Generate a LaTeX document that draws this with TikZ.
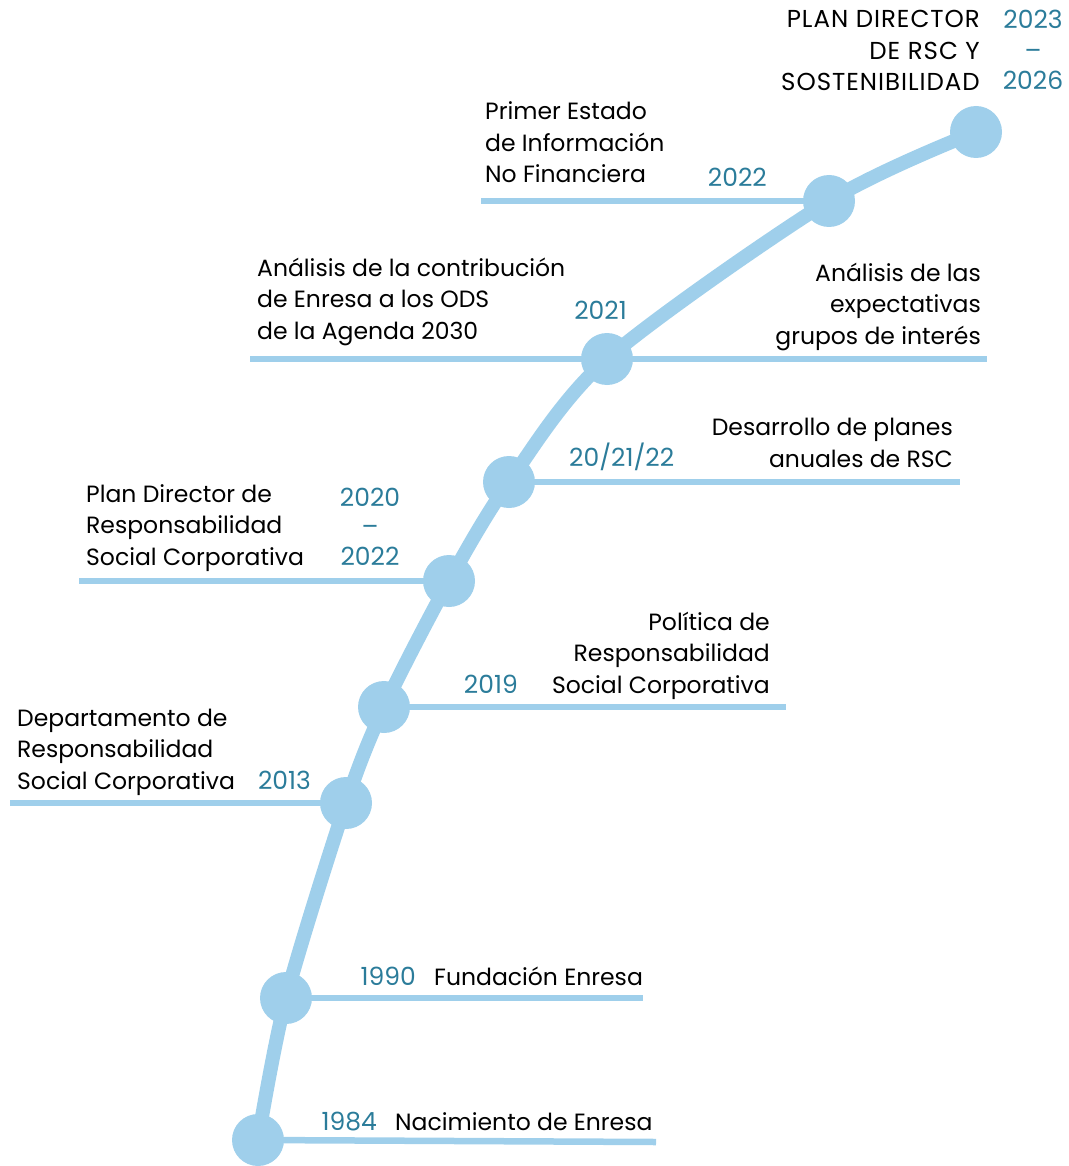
\documentclass[tikz,border=0pt]{standalone}
\usepackage{fontspec}
\setmainfont{Poppins}
\newfontfamily\versales[LetterSpace=4]{Poppins}
\usetikzlibrary{positioning, backgrounds}
\definecolor{linea}{HTML}{9FCFEB}
\definecolor{anio}{HTML}{2B7C9A}

\begin{document}
\begin{tikzpicture}[x=1pt, y=-1pt, every node/.style={inner sep=0pt}, font=\fontsize{23.5}{31.5}\selectfont]
\useasboundingbox (0,0) rectangle (1068,1166);

\tikzstyle{hito}=[circle, fill=linea, minimum size=52pt]
\tikzstyle{year}=[text=anio, font=\fontsize{25}{30}\selectfont]
\tikzstyle{rama}=[draw=linea, line width=6.5pt]
\tikzstyle{tronco}=[draw=linea, line width=14pt]

% hitos de la linea temporal
\node[hito] (c1) at (258,1140) {};
\node[hito] (c2) at (286,998) {};
\node[hito] (c3) at (346,803) {};
\node[hito] (c4) at (384,707) {};
\node[hito] (c5) at (449,581) {};
\node[hito] (c6) at (509,482) {};
\node[hito] (c7) at (607,359) {};
\node[hito] (c8) at (829,201) {};
\node[hito] (c9) at (976,132) {};

% extremos de las ramas
\coordinate (e1) at (656,1142);
\coordinate (e2) at (643,998);
\coordinate (e3) at (10,803);
\coordinate (e4) at (786,707);
\coordinate (e5) at (79,581);
\coordinate (e6) at (960,482);
\coordinate (e7) at (250,359);
\coordinate (e7r) at (987,359);
\coordinate (e8) at (481,201);

% tronco y ramas (detras de los hitos)
\begin{scope}[on background layer]
\foreach \x in {1,...,8}
    \draw[rama] (c\x.center) -- (e\x);
\draw[rama] (c7.center) -- (e7r);
\draw[tronco] plot[smooth, tension=0.5] coordinates {(c1.center) (c2.center) (c3.center) (c4.center) (c5.center) (c6.center) (c7.center) (c8.center) (c9.center)};
\end{scope}

% textos (base = ultima linea)
\node[year, anchor=base east] (y1) at (377,1130) {1984};
\node[anchor=base west] (t1) at (395,1130) {Nacimiento de Enresa};

\node[year, anchor=base east] (y2) at (416,985) {1990};
\node[anchor=base west] (t2) at (434,985) {Fundación Enresa};

\node[anchor=base west, align=left] (t3) at (17,789) {Departamento de\\Responsabilidad\\Social Corporativa};
\node[year, anchor=base east] (y3) at (311,789) {2013};

\node[anchor=base east, align=right] (t4) at (770,693) {Política de\\Responsabilidad\\Social Corporativa};
\node[year, anchor=base east] (y4) at (518,693) {2019};

\node[anchor=base west, align=left] (t5) at (86,565) {Plan Director de\\Responsabilidad\\Social Corporativa};
\node[year, anchor=base, align=center, font=\fontsize{25}{29.5}\selectfont] (y5) at (370,565) {2020\\–\\2022};

\node[anchor=base east, align=right] (t6) at (953,467) {Desarrollo de planes\\anuales de RSC};
\node[year, anchor=base west] (y6) at (569,466) {20/21/22};

\node[anchor=base west, align=left] (t7) at (257,339) {Análisis de la contribución\\de Enresa a los ODS\\de la Agenda 2030};
\node[year, anchor=base east] (y7) at (627,319) {2021};
\node[anchor=base east, align=right] (t7r) at (981,344) {Análisis de las\\expectativas\\grupos de interés};

\node[anchor=base west, align=left] (t8) at (485,183) {Primer Estado\\de Información\\No Financiera};
\node[year, anchor=base east] (y8) at (767,187) {2022};

\node[anchor=base east, align=right, font=\versales\fontsize{24.5}{31.5}\selectfont] (t9) at (980,91) {PLAN DIRECTOR\\DE RSC Y\\SOSTENIBILIDAD};
\node[year, anchor=base, align=center, font=\fontsize{25}{30.5}\selectfont] (y9) at (1033,90) {2023\\–\\2026};

\end{tikzpicture}
\end{document}
